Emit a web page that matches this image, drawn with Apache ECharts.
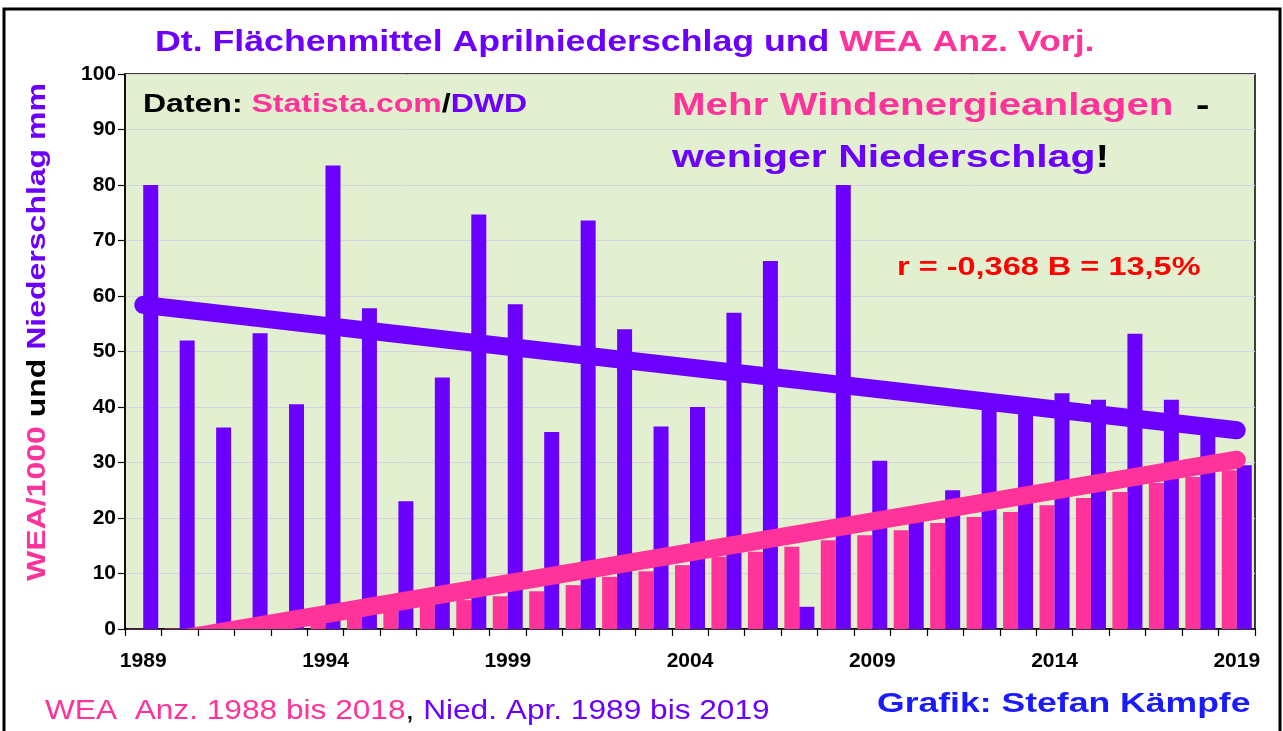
<!DOCTYPE html>
<html>
<head>
<meta charset="utf-8">
<script src="https://cdn.jsdelivr.net/npm/echarts@6/dist/echarts.min.js"></script>
<style>
html,body{margin:0;padding:0;background:#fff;}
#c{width:1283px;height:731px;}
</style>
</head>
<body>
<div id="c"></div>
<script>
const years = ['1989','1990','1991','1992','1993','1994','1995','1996','1997','1998','1999','2000','2001','2002','2003','2004','2005','2006','2007','2008','2009','2010','2011','2012','2013','2014','2015','2016','2017','2018','2019'];
// WEA Anzahl (Vorjahr) / 1000
const weaValues = [0.05,0.1,0.4,0.7,1.1,1.8,2.6,3.6,4.3,5.2,5.9,6.8,7.9,9.4,10.4,11.5,13.0,13.9,14.8,16.0,16.9,17.8,19.1,20.2,21.1,22.3,23.6,24.7,26.3,27.4,28.6];
// April-Niederschlag mm
const precipValues = [80,52,36.3,53.3,40.5,83.5,57.8,23,45.3,74.7,58.5,35.5,73.6,54,36.5,40,57,66.3,4,80,30.3,20,25,39.5,39,42.5,41.3,53.2,41.3,35,29.5];
// trend lines: value at first year and at last year
const precipTrend = [58.4, 35.8];
const weaTrend = [-2.9, 30.5];
const yTicks = [0,10,20,30,40,50,60,70,80,90,100];

const PURPLE = '#6c00ff';
const PINK = '#ff3399';
const FONT = 'Liberation Sans, Arial, sans-serif';

const chart = echarts.init(document.getElementById('c'), null, {renderer:'canvas'});
const last = years.length - 1;

function txt(x, y, text, rich, opts) {
  return Object.assign({
    type: 'text', x: x, y: y, z: 100,
    style: { text: text, rich: rich, verticalAlign: 'middle', align: 'left' }
  }, opts || {});
}

function trendSeries(name, ends, color) {
  return {
    type: 'custom', name: name, clip: true, z: 5,
    data: [[0, ends[0], last, ends[1]]],
    renderItem: function (params, api) {
      const p0 = api.coord([api.value(0), api.value(1)]);
      const p1 = api.coord([api.value(2), api.value(3)]);
      return {
        type: 'line',
        shape: { x1: p0[0], y1: p0[1], x2: p1[0], y2: p1[1] },
        style: { stroke: color, lineWidth: 18, lineCap: 'round', fill: null }
      };
    }
  };
}

const option = {
  animation: false,
  backgroundColor: '#ffffff',
  grid: { left: 125, right: 28, top: 74, bottom: 102, show: true, backgroundColor: '#e2efd0', borderColor: '#000', borderWidth: 1.5 },
  xAxis: {
    type: 'category', data: years, boundaryGap: true,
    axisLine: { lineStyle: { color: '#000', width: 1.5 } },
    axisTick: { show: true, interval: 0, length: 7, lineStyle: { color: '#000', width: 1.2 } },
    axisLabel: { interval: 4, color: '#000', fontFamily: FONT, fontWeight: 'bold', fontSize: 21, margin: 22 },
    splitLine: { show: false }
  },
  yAxis: {
    type: 'value', min: yTicks[0], max: yTicks[yTicks.length-1], interval: 10,
    axisLine: { show: true, lineStyle: { color: '#000', width: 1.5 } },
    axisTick: { show: true, length: 7, lineStyle: { color: '#000', width: 1.2 } },
    axisLabel: { color: '#000', fontFamily: FONT, fontWeight: 'bold', fontSize: 21, margin: 9 },
    splitLine: { show: true, lineStyle: { color: '#d8d3e3', width: 1 } }
  },
  series: [
    { type: 'bar', name: 'WEA', data: weaValues, barWidth: 15, barGap: '0%', itemStyle: { color: PINK }, z: 2 },
    { type: 'bar', name: 'Niederschlag', data: precipValues, barWidth: 15, barGap: '0%', itemStyle: { color: PURPLE }, z: 2 },
    trendSeries('Trend N', precipTrend, PURPLE),
    trendSeries('Trend WEA', weaTrend, PINK)
  ],
  graphic: [
    { type: 'rect', shape: { x: 4, y: 9, width: 1276, height: 740 }, style: { fill: 'none', stroke: '#000', lineWidth: 3 }, z: 0 },
    txt(155, 43, '{a|Dt. Flächenmittel Aprilniederschlag und }{b|WEA Anz. Vorj.}', {
      a: { fontFamily: FONT, fontWeight: 'bold', fontSize: 30, fill: PURPLE },
      b: { fontFamily: FONT, fontWeight: 'bold', fontSize: 30, fill: PINK }
    }, { scaleX: 1.19 }),
    txt(143, 105, '{k|Daten: }{p|Statista.com}{k|/}{v|DWD}', {
      k: { fontFamily: FONT, fontWeight: 'bold', fontSize: 25, fill: '#000' },
      p: { fontFamily: FONT, fontWeight: 'bold', fontSize: 25, fill: PINK },
      v: { fontFamily: FONT, fontWeight: 'bold', fontSize: 25, fill: PURPLE }
    }, { scaleX: 1.28 }),
    txt(672, 106, '{p|Mehr Windenergieanlagen}{k|  -}', {
      p: { fontFamily: FONT, fontWeight: 'bold', fontSize: 32, fill: PINK },
      k: { fontFamily: FONT, fontWeight: 'bold', fontSize: 32, fill: '#000' }
    }, { scaleX: 1.26 }),
    txt(672, 158, '{v|weniger Niederschlag}{k|!}', {
      v: { fontFamily: FONT, fontWeight: 'bold', fontSize: 32, fill: PURPLE },
      k: { fontFamily: FONT, fontWeight: 'bold', fontSize: 32, fill: '#000' }
    }, { scaleX: 1.28 }),
    txt(897, 268, '{r|r = -0,368 B = 13,5%}', {
      r: { fontFamily: FONT, fontWeight: 'bold', fontSize: 25, fill: '#ff0000' }
    }, { scaleX: 1.3 }),
    txt(45, 711, '{p|WEA  Anz. 1988 bis 2018}{k|, }{v|Nied. Apr. 1989 bis 2019}', {
      p: { fontFamily: FONT, fontSize: 28, fill: PINK },
      k: { fontFamily: FONT, fontSize: 28, fill: '#000' },
      v: { fontFamily: FONT, fontSize: 28, fill: PURPLE }
    }, { scaleX: 1.13 }),
    txt(877, 704, '{b|Grafik: Stefan Kämpfe}', {
      b: { fontFamily: FONT, fontWeight: 'bold', fontSize: 28, fill: '#1a1aff' }
    }, { scaleX: 1.27 }),
    {
      type: 'text', x: 38, y: 332, rotation: Math.PI / 2, scaleX: 1.28, z: 100,
      style: {
        text: '{p|WEA/1000}{k| und }{v|Niederschlag mm}', align: 'center', verticalAlign: 'middle',
        rich: {
          p: { fontFamily: FONT, fontWeight: 'bold', fontSize: 25, fill: PINK },
          k: { fontFamily: FONT, fontWeight: 'bold', fontSize: 25, fill: '#000' },
          v: { fontFamily: FONT, fontWeight: 'bold', fontSize: 25, fill: PURPLE }
        }
      }
    }
  ]
};
chart.setOption(option);
</script>
</body>
</html>
